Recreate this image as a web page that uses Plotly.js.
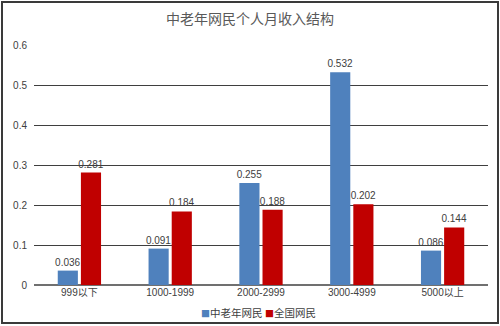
<!DOCTYPE html>
<html>
<head>
<meta charset="utf-8">
<script src="https://cdn.plot.ly/plotly-3.0.1.min.js"></script>
<style>
html,body{margin:0;padding:0;background:#fff;}
#wrap{position:relative;width:500px;height:326px;}
#frame{position:absolute;left:1px;top:1px;width:498px;height:323px;border:2px solid #3a3a3a;box-sizing:border-box;pointer-events:none;}
</style>
</head>
<body>
<div id="wrap"><div id="chart" style="width:500px;height:326px;"></div><div id="frame"></div></div>
<script>
const categories = ["999以下", "1000-1999", "2000-2999", "3000-4999", "5000以上"];
const seriesNames = ["中老年网民", "全国网民"];
const seriesColors = ["#4F81BD", "#C00000"];
const elderly = [0.036, 0.091, 0.255, 0.532, 0.086];
const national = [0.281, 0.184, 0.188, 0.202, 0.144];
const yTicks = [0, 0.1, 0.2, 0.3, 0.4, 0.5, 0.6];
const yTickText = ["0", "0.1", "0.2", "0.3", "0.4", "0.5", "0.6"];

const fam = "Liberation Sans, Noto Sans CJK SC, sans-serif";
const txtFont = {family: fam, size: 10, color: "#404040"};

const traces = [
  {type: "bar", name: seriesNames[0], x: categories, y: elderly,
   text: elderly.map(v => v.toFixed(3)), textposition: "outside", cliponaxis: false, constraintext: "none",
   textfont: txtFont, marker: {color: seriesColors[0]}, hoverinfo: "none"},
  {type: "bar", name: seriesNames[1], x: categories, y: national,
   text: national.map(v => v.toFixed(3)), textposition: "outside", cliponaxis: false, constraintext: "none",
   textfont: txtFont, marker: {color: seriesColors[1]}, hoverinfo: "none"}
];

const legendText = seriesNames.map((n, i) =>
  '<span style="color:' + seriesColors[i] + ';font-size:9px">■</span>' + n).join(' ');

const layout = {
  width: 500, height: 326,
  margin: {l: 34, r: 12, t: 45, b: 41},
  paper_bgcolor: "#fff", plot_bgcolor: "#fff",
  title: {text: "中老年网民个人月收入结构", x: 0.5, xanchor: "center", yref: "container", y: 0.94, yanchor: "middle",
          font: {family: "Noto Sans CJK SC, sans-serif", size: 14, color: "#595959"}},
  barmode: "group", bargap: 0.49, bargroupgap: 0.13,
  xaxis: {type: "category", showgrid: false, zeroline: false, showline: false,
          tickfont: {family: fam, size: 10, color: "#404040"}, ticks: "", fixedrange: true, automargin: false},
  yaxis: {range: [0, 0.6], tickvals: yTicks, ticktext: yTickText, showgrid: true,
          gridcolor: "#3f3f3f", gridwidth: 1, zeroline: true, zerolinecolor: "#707070", zerolinewidth: 1.5,
          showline: false, ticklabelstandoff: 6, automargin: false,
          tickfont: {family: fam, size: 10, color: "#404040"}, fixedrange: true},
  showlegend: false,
  annotations: [{text: legendText, xref: "paper", yref: "paper", x: 0.494, y: -0.1125,
                 xanchor: "center", yanchor: "middle", showarrow: false,
                 font: {family: "Noto Sans CJK SC, sans-serif", size: 10.5, color: "#404040"}}]
};

Plotly.newPlot("chart", traces, layout, {displayModeBar: false, staticPlot: true});
</script>
</body>
</html>
